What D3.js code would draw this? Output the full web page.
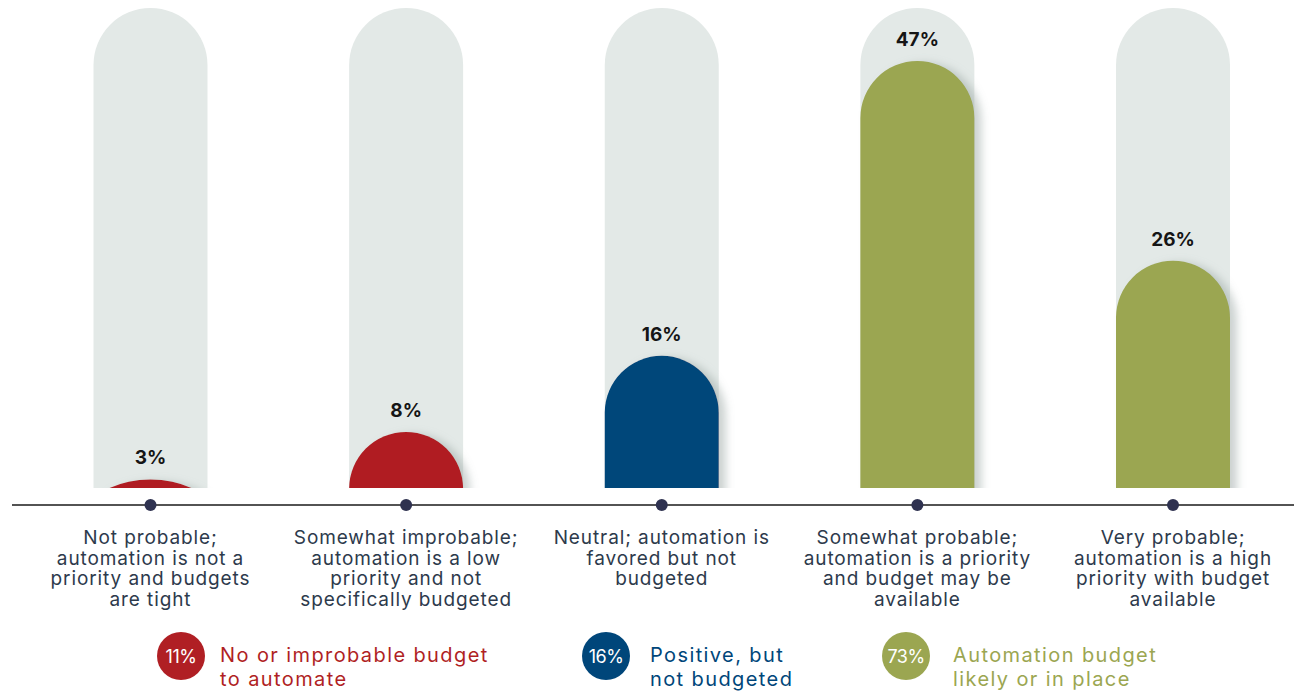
<!DOCTYPE html>
<html>
<head>
<meta charset="utf-8">
<script src="https://cdn.jsdelivr.net/npm/d3@7"></script>
<style>
  html, body { margin: 0; padding: 0; background: #ffffff; }
  svg { display: block; font-family: "Inter", "Noto Sans", sans-serif; }
</style>
</head>
<body>
<svg id="chart" width="1294" height="691"></svg>
<script>
// Likelihood of automation budget, share of respondents
const categories = [
  "Not probable; automation is not a priority and budgets are tight",
  "Somewhat improbable; automation is a low priority and not specifically budgeted",
  "Neutral; automation is favored but not budgeted",
  "Somewhat probable; automation is a priority and budget may be available",
  "Very probable; automation is a high priority with budget available"
];
const labelLines = [
  ["Not probable;", "automation is not a", "priority and budgets", "are tight"],
  ["Somewhat improbable;", "automation is a low", "priority and not", "specifically budgeted"],
  ["Neutral; automation is", "favored but not", "budgeted"],
  ["Somewhat probable;", "automation is a priority", "and budget may be", "available"],
  ["Very probable;", "automation is a high", "priority with budget", "available"]
];
const values = [3, 8, 16, 47, 26];
const groupOf = [0, 0, 1, 2, 2];

const groupNames = [["No or improbable budget", "to automate"], ["Positive, but", "not budgeted"], ["Automation budget", "likely or in place"]];
const groupValues = [11, 16, 73];
const groupColors = ["#b01f24", "#00467a", "#9ba651"];

const svg = d3.select("#chart");

const baseY = 488;     // bottom of the bars
const axisY = 505;     // baseline rule
const trackTop = 8;
const barW = 114;

const x = d3.scalePoint().domain(categories).range([150.5, 1173]);
// value scale: zero sits slightly below the bar floor so small values show as flattened domes
const y = d3.scaleLinear().domain([0, 47]).range([baseY + 20, 61]);

const defs = svg.append("defs");
defs.append("clipPath").attr("id", "floor")
  .append("rect").attr("x", 0).attr("y", 0).attr("width", 1294).attr("height", baseY);
const f = defs.append("filter").attr("id", "shadow")
  .attr("x", "-30%").attr("y", "-30%").attr("width", "160%").attr("height", "160%");
f.append("feDropShadow").attr("dx", 7).attr("dy", 2).attr("stdDeviation", 4)
  .attr("flood-color", "#8d9c98").attr("flood-opacity", 0.45);

// domed column: rounded top with rx = half width, ry capped by the column height
function dome(cx, top, bottom) {
  const rx = barW / 2;
  const ry = Math.min(57, bottom - top);
  const l = cx - rx, r = cx + rx;
  return `M${l},${bottom} L${l},${top + ry} A${rx},${ry} 0 0 1 ${r},${top + ry} L${r},${bottom} Z`;
}

// light tracks
svg.append("g").selectAll("path").data(categories).join("path")
  .attr("d", c => dome(x(c), trackTop, baseY))
  .attr("fill", "#e3e9e7");

// value columns
svg.append("g").attr("clip-path", "url(#floor)")
  .selectAll("path").data(values).join("path")
  .attr("d", (v, i) => dome(x(categories[i]), y(v), y(0)))
  .attr("fill", (v, i) => groupColors[groupOf[i]])
  .attr("filter", "url(#shadow)");

// value labels
svg.append("g").selectAll("text").data(values).join("text")
  .attr("x", (v, i) => x(categories[i]))
  .attr("y", v => Math.min(y(v), baseY) - 15)
  .attr("text-anchor", "middle")
  .attr("font-size", 19).attr("font-weight", 700).attr("fill", "#151515")
  .text(v => v + "%");

// baseline rule with markers
svg.append("line").attr("x1", 12).attr("x2", 1294).attr("y1", axisY).attr("y2", axisY)
  .attr("stroke", "#1a1a1a").attr("stroke-width", 1.5);
svg.append("g").selectAll("circle").data(categories).join("circle")
  .attr("cx", c => x(c)).attr("cy", axisY).attr("r", 6).attr("fill", "#2f3250");

// category labels
const cat = svg.append("g").selectAll("text").data(categories).join("text")
  .attr("x", c => x(c)).attr("y", 544)
  .attr("text-anchor", "middle")
  .attr("font-size", 19).attr("letter-spacing", 0.9).attr("fill", "#2d3a4c");
cat.selectAll("tspan").data((c, i) => labelLines[i]).join("tspan")
  .attr("x", function () { return d3.select(this.parentNode).attr("x"); })
  .attr("dy", (d, j) => j === 0 ? 0 : 20.5)
  .text(d => d);

// legend
const legendX = [181, 606, 906];
const legendTextX = [220, 650, 953];
const lg = svg.append("g").selectAll("g").data(groupValues).join("g");
lg.append("circle").attr("cx", (d, i) => legendX[i]).attr("cy", 656)
  .attr("r", 24).attr("fill", (d, i) => groupColors[i]);
lg.append("text").attr("x", (d, i) => legendX[i]).attr("y", 662.5)
  .attr("text-anchor", "middle")
  .attr("font-size", 18).attr("fill", "#ffffff").attr("letter-spacing", -0.5)
  .text(d => d + "%");
const lt = lg.append("text").attr("y", 662)
  .attr("font-size", 20).attr("letter-spacing", 1.4)
  .attr("fill", (d, i) => groupColors[i]);
lt.selectAll("tspan").data((d, i) => groupNames[i].map(s => ({ s, x: legendTextX[i] }))).join("tspan")
  .attr("x", d => d.x).attr("dy", (d, j) => j === 0 ? 0 : 24)
  .text(d => d.s);
</script>
</body>
</html>
